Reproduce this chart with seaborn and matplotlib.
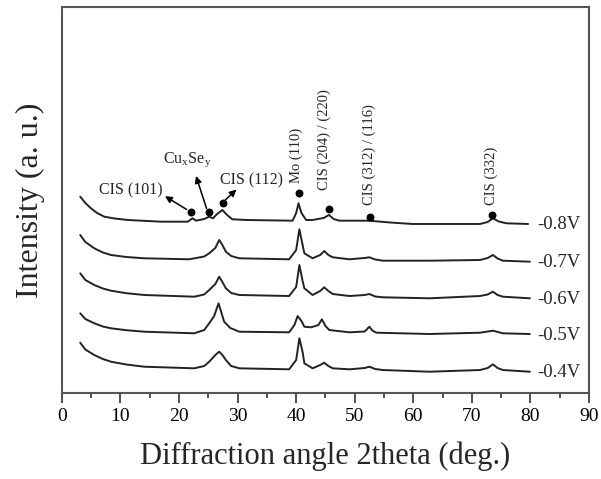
import matplotlib
matplotlib.use("Agg")
import matplotlib.pyplot as plt
import pandas as pd
import seaborn as sns
from matplotlib.ticker import MultipleLocator

# values (2theta in deg, intensity in arbitrary units)
two_theta_08 = [3.13, 4.0, 4.96, 6.0, 7.24, 9.0, 11.24, 16.94, 21.5, 22.3, 22.9, 24.3, 25.15, 25.8,
                26.5, 27.4, 28.2, 29.1, 31.4, 39.4, 40.0, 40.4, 40.9, 41.7, 42.8, 44.7, 45.6,
                46.4, 47.4, 52.5, 56.0, 59.9, 71.4, 72.7, 73.6, 74.6, 75.9, 79.6]
intensity_08 = [196.3, 190, 184.7, 180, 176.3, 174.5, 173, 171.3, 171.3, 174.7, 172.3, 174, 176.3, 174.7,
                179, 183, 178, 173.7, 173, 172.3, 180, 189.7, 180, 173, 173, 175, 178,
                174, 172.3, 172.3, 170.5, 169, 169, 171, 174.7, 171.5, 169.7, 169]

two_theta_07 = [3.13, 4.0, 5.53, 7.0, 8.38, 11.0, 14.08, 21.73, 24.3, 25.15, 26.2, 26.86, 27.4, 28.0,
                28.9, 30.3, 38.8, 40.0, 40.55, 41.1, 41.4, 42.8, 44.1, 44.8, 45.5, 46.25, 49.1,
                51.7, 52.5, 53.5, 54.8, 62.8, 71.4, 72.7, 73.6, 74.4, 75.3, 79.9]
intensity_07 = [158, 151, 144.7, 140.5, 138, 136, 134.7, 133.7, 136.5, 139.7, 145, 153, 148, 141.3,
                137, 134.7, 133.7, 143, 163.7, 148, 139.7, 134.7, 138, 142, 138, 135.7, 133.7,
                135, 135.7, 133.5, 132.3, 132.3, 133, 135, 138, 134.5, 132.3, 131.3]

two_theta_06 = [3.13, 4.0, 5.53, 7.0, 8.38, 11.0, 14.08, 22.6, 24.3, 25.15, 26.2, 26.86, 27.4, 28.0,
                28.9, 30.3, 38.8, 40.0, 40.55, 41.1, 41.4, 42.8, 44.1, 44.8, 45.5, 46.25, 49.1,
                51.7, 52.5, 53.5, 54.8, 62.8, 71.4, 72.7, 73.6, 74.4, 75.3, 79.9]
intensity_06 = [119.7, 113, 108, 104.5, 102.3, 99.8, 98, 96.3, 98.5, 103, 109, 116.3, 111, 104.7,
                100, 98, 97, 106, 128, 112, 104.7, 98, 102, 105.7, 102, 99, 97,
                98, 99, 96.5, 95.7, 94.7, 97, 98.5, 101.3, 98, 96.3, 94.7]

two_theta_05 = [3.13, 4.0, 5.53, 7.0, 8.38, 11.0, 14.08, 22.6, 24.3, 25.15, 26.0, 26.75, 27.2, 27.7,
                28.75, 30.3, 38.8, 39.7, 40.26, 40.9, 41.4, 42.55, 43.8, 44.4, 45.0, 45.65, 49.1,
                51.7, 52.5, 53.0, 53.7, 62.8, 71.4, 73.6, 75.3, 79.9]
intensity_05 = [79.7, 74, 69.7, 66.5, 64.7, 62.8, 61.3, 59.7, 63, 69.7, 77, 89.7, 81, 71.3,
                65, 61.3, 60.7, 68, 77, 72, 66.3, 65.7, 68, 73.7, 67, 63, 60.7,
                61.5, 66.3, 62.5, 60.3, 59, 60.3, 62.3, 59.7, 59]

two_theta_04 = [3.13, 4.0, 5.53, 7.0, 8.38, 11.0, 14.08, 22.6, 24.3, 25.15, 26.2, 26.86, 27.4, 28.0,
                28.9, 30.3, 38.8, 40.0, 40.55, 41.1, 41.4, 42.8, 44.1, 44.8, 45.5, 46.25, 49.1,
                51.7, 52.5, 53.5, 54.8, 62.8, 71.4, 72.7, 73.6, 74.4, 75.3, 79.9]
intensity_04 = [50.3, 43.5, 38, 34, 31.3, 28.5, 26.3, 24.7, 27, 31.3, 38, 41.3, 38, 33,
                27, 24.7, 23.7, 33, 54.7, 41, 29.7, 24.7, 28, 30.3, 27, 24.7, 23.7,
                25, 26.3, 24, 23, 21.3, 23, 25, 28.7, 25, 23, 21.3]

voltages = ["-0.8V", "-0.7V", "-0.6V", "-0.5V", "-0.4V"]

# marked peaks on the -0.8V pattern
peak_x = [22.0, 25.15, 27.43, 40.4, 45.6, 52.65, 73.5]
peak_y = [181.3, 181.3, 190.3, 200.3, 183.7, 176.3, 178]

vertical_labels = ["Mo (110)", "CIS (204) / (220)", "CIS (312) / (116)", "CIS (332)"]
vertical_x = [40.0, 44.85, 52.5, 73.35]
vertical_y = [210, 203, 188, 188]

sns.set_style("ticks")
plt.rcParams["font.family"] = ["Liberation Serif", "DejaVu Serif"]
plt.rcParams["mathtext.fontset"] = "custom"
plt.rcParams["mathtext.rm"] = "Liberation Serif"

curves = [
    (two_theta_08, intensity_08),
    (two_theta_07, intensity_07),
    (two_theta_06, intensity_06),
    (two_theta_05, intensity_05),
    (two_theta_04, intensity_04),
]

fig = plt.figure(figsize=(6.01, 4.79), dpi=100)
ax = fig.add_axes([0.103, 0.1795, 0.877, 0.806])

for (tt, inten), volt in zip(curves, voltages):
    df = pd.DataFrame({"2theta": tt, "I": inten})
    sns.lineplot(data=df, x="2theta", y="I", ax=ax, color="#222222", lw=1.4,
                 sort=False, estimator=None)
    ax.text(81.1, inten[-1] - 1, volt, ha="left", va="center", fontsize=13.5)

ax.scatter(peak_x, peak_y, s=22, color="black", zorder=5)

arrow = dict(arrowstyle="-|>", color="black", lw=1.1, mutation_scale=10,
             shrinkA=0, shrinkB=0)
ax.annotate("", xy=(17.6, 196.8), xytext=(21.3, 183.5), arrowprops=arrow)
ax.text(11.75, 203, "CIS (101)", ha="center", va="center", fontsize=11.5)
ax.annotate("", xy=(22.9, 217), xytext=(24.7, 184.5), arrowprops=arrow)
ax.text(21.44, 233, r"Cu$_\mathregular{x}$Se$_\mathregular{y}$", ha="center", va="center",
        fontsize=11.5)
ax.annotate("", xy=(29.8, 203.5), xytext=(27.9, 193), arrowprops=arrow)
ax.text(32.3, 212.3, "CIS (112)", ha="center", va="center", fontsize=11.5)

for lab, vx, vy in zip(vertical_labels, vertical_x, vertical_y):
    ax.text(vx, vy, lab, rotation=90, ha="center", va="bottom", fontsize=10.5)

ax.set_xlim(0, 90)
ax.set_ylim(0, 386)
ax.set_yticks([])
ax.xaxis.set_major_locator(MultipleLocator(10))
ax.xaxis.set_minor_locator(MultipleLocator(5))
ax.tick_params(axis="x", which="major", direction="out", length=7, width=1.2,
               labelsize=14, colors="#333333")
ax.tick_params(axis="x", which="minor", direction="out", length=3.5, width=1.2,
               colors="#333333")
ax.tick_params(axis="x", labelcolor="black")
for sp in ax.spines.values():
    sp.set_visible(True)
    sp.set_color("#555555")
    sp.set_linewidth(1.5)

ax.set_xlabel("Diffraction angle 2theta (deg.)", fontsize=22, labelpad=12)
ax.set_ylabel("Intensity (a. u.)", fontsize=23, labelpad=12)

fig.savefig("out.png", dpi=100)
